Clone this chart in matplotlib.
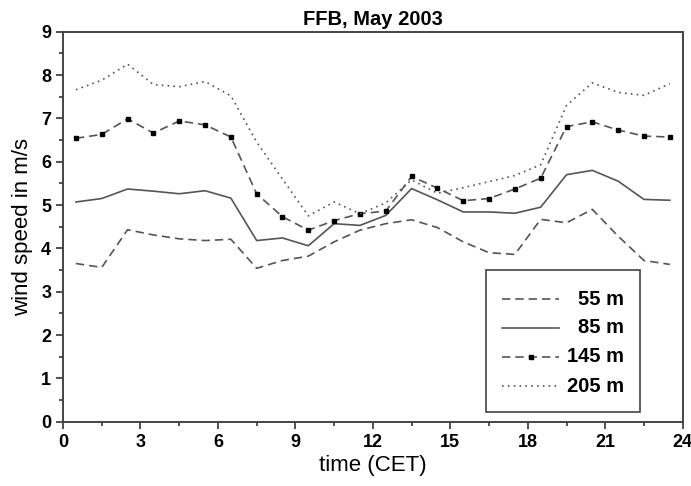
import numpy as np
import matplotlib
matplotlib.use('Agg')
import matplotlib.pyplot as plt
from matplotlib.ticker import MultipleLocator
from matplotlib.patches import Rectangle

plt.rcParams['font.family'] = ['Liberation Sans Narrow', 'Liberation Sans', 'DejaVu Sans']

# hourly means, time stamp in the middle of each hour
hours = np.arange(0.5, 24, 1.0)
ws_55 = [3.65, 3.56, 4.43, 4.31, 4.22, 4.18, 4.21, 3.54, 3.72, 3.82, 4.15, 4.42,
         4.57, 4.66, 4.48, 4.15, 3.90, 3.86, 4.67, 4.59, 4.90, 4.28, 3.72, 3.63]
ws_85 = [5.07, 5.15, 5.37, 5.32, 5.26, 5.33, 5.16, 4.18, 4.24, 4.06, 4.57, 4.53,
         4.76, 5.38, 5.12, 4.84, 4.84, 4.81, 4.95, 5.70, 5.80, 5.55, 5.13, 5.11]
ws_145 = [6.54, 6.63, 6.99, 6.66, 6.94, 6.85, 6.57, 5.26, 4.73, 4.42, 4.64, 4.80,
          4.86, 5.66, 5.39, 5.10, 5.15, 5.37, 5.62, 6.81, 6.92, 6.73, 6.59, 6.57]
ws_205 = [7.66, 7.88, 8.25, 7.78, 7.73, 7.85, 7.52, 6.45, 5.60, 4.75, 5.07, 4.80,
          5.05, 5.58, 5.27, 5.40, 5.54, 5.68, 5.93, 7.30, 7.82, 7.60, 7.53, 7.80]
labels = ['55 m', '85 m', '145 m', '205 m']

line_col = '#555555'
styles = [
    dict(ls=(0, (5, 3)), marker=None),
    dict(ls='-', marker=None),
    dict(ls=(0, (5, 3)), marker='s'),
    dict(ls=(0, (1, 2.5)), marker=None),
]
plain = ['Liberation Sans', 'DejaVu Sans']

fig = plt.figure(figsize=(6.91, 4.86), dpi=100)
ax = fig.add_axes([0.0912, 0.1323, 0.8968, 0.8025])

for ys, st in zip([ws_55, ws_85, ws_145, ws_205], styles):
    ax.plot(hours, ys, color=line_col, lw=1.2, ls=st['ls'],
            marker=st['marker'], ms=3.5, mfc='black', mec='black')

ax.set_xlim(0, 24)
ax.set_ylim(0, 9)
ax.xaxis.set_major_locator(MultipleLocator(3))
ax.xaxis.set_minor_locator(MultipleLocator(1.5))
ax.yaxis.set_major_locator(MultipleLocator(1))
ax.yaxis.set_minor_locator(MultipleLocator(0.5))
ax.tick_params(which='both', direction='out', color='#333333', width=1.2,
               top=False, right=False)
ax.tick_params(which='major', length=5, labelsize=13)
ax.tick_params(which='minor', length=3)
for lab in ax.get_xticklabels() + ax.get_yticklabels():
    lab.set_fontweight('bold')
for sp in ax.spines.values():
    sp.set_color('#444444')
    sp.set_linewidth(1.4)

ax.set_xlabel('time (CET)', fontsize=16, fontfamily=plain, labelpad=3)
ax.set_ylabel('wind speed in m/s', fontsize=16, fontfamily=plain, labelpad=6)
ax.set_title('FFB, May 2003', fontsize=14.5, fontweight='bold',
             fontfamily=plain, pad=5)

# hand-made legend: handles left, labels right-aligned
ax.add_patch(Rectangle((0.682, 0.026), 0.249, 0.363, transform=ax.transAxes,
                       fill=False, ec='#444444', lw=1.2, zorder=5))
row_y = [0.314, 0.241, 0.167, 0.091]
for yy, st, lab in zip(row_y, styles, labels):
    ax.plot([0.709, 0.800], [yy, yy], transform=ax.transAxes, color=line_col,
            lw=1.2, ls=st['ls'], zorder=6)
    if st['marker']:
        ax.plot([0.7545], [yy], transform=ax.transAxes, marker='s', ms=3.5,
                color='black', zorder=7)
    ax.text(0.905, yy, lab, transform=ax.transAxes, ha='right', va='center',
            fontsize=14.5, fontweight='bold', fontfamily=plain)

fig.savefig('out.png', dpi=100)
